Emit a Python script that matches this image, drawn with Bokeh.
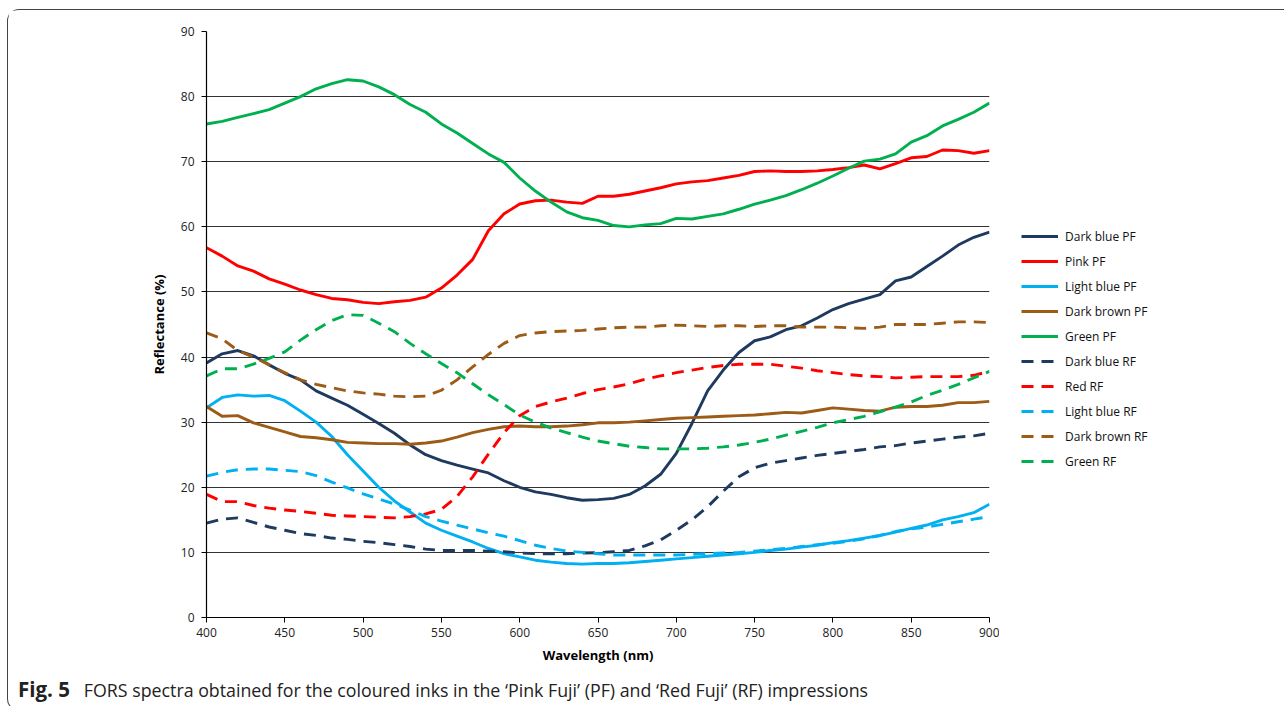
from bokeh.plotting import figure
from bokeh.models import Legend, LegendItem, Range1d, FixedTicker, Div
from bokeh.layouts import column, row
from bokeh.embed import file_html
from bokeh.resources import INLINE

wavelength = list(range(400, 901, 10))

dark_blue_pf = [39.1, 40.5, 41.0, 40.2, 38.8, 37.5, 36.5, 34.8, 33.7, 32.6, 31.2, 29.8, 28.3, 26.5, 25.0, 24.1, 23.4, 22.8, 22.2, 21.0,
                20.0, 19.3, 18.9, 18.4, 18.0, 18.1, 18.3, 18.9, 20.2, 22.0, 25.2, 29.8, 34.8, 38.0, 40.7, 42.5, 43.1, 44.2, 44.8, 46.0,
                47.3, 48.2, 48.9, 49.6, 51.7, 52.3, 53.9, 55.5, 57.2, 58.4, 59.2]
pink_pf = [56.8, 55.5, 54.0, 53.2, 52.0, 51.2, 50.3, 49.6, 49.0, 48.8, 48.4, 48.2, 48.5, 48.7, 49.2, 50.6, 52.6, 55.0, 59.4, 62.0,
           63.5, 64.0, 64.1, 63.8, 63.6, 64.7, 64.7, 65.0, 65.5, 66.0, 66.6, 66.9, 67.1, 67.5, 67.9, 68.5, 68.6, 68.5, 68.5, 68.6,
           68.8, 69.1, 69.5, 68.9, 69.7, 70.6, 70.8, 71.8, 71.7, 71.3, 71.7]
light_blue_pf = [32.2, 33.8, 34.2, 34.0, 34.1, 33.3, 31.7, 30.0, 27.8, 25.0, 22.5, 20.0, 17.9, 16.2, 14.5, 13.4, 12.5, 11.6, 10.6, 9.8,
                 9.3, 8.8, 8.5, 8.3, 8.2, 8.3, 8.3, 8.4, 8.6, 8.8, 9.0, 9.2, 9.4, 9.6, 9.8, 10.0, 10.3, 10.5, 10.8, 11.1,
                 11.5, 11.8, 12.2, 12.6, 13.1, 13.7, 14.2, 15.0, 15.5, 16.1, 17.4]
dark_brown_pf = [32.4, 30.9, 31.0, 29.9, 29.2, 28.5, 27.8, 27.6, 27.3, 26.9, 26.8, 26.7, 26.7, 26.6, 26.8, 27.1, 27.7, 28.4, 28.9, 29.3,
                 29.4, 29.3, 29.3, 29.4, 29.6, 29.9, 29.9, 30.0, 30.2, 30.4, 30.6, 30.7, 30.8, 30.9, 31.0, 31.1, 31.3, 31.5, 31.4, 31.8,
                 32.2, 32.0, 31.8, 31.7, 32.3, 32.4, 32.4, 32.6, 33.0, 33.0, 33.2]
green_pf = [75.8, 76.2, 76.8, 77.4, 78.0, 79.0, 80.0, 81.2, 82.0, 82.6, 82.4, 81.5, 80.3, 78.8, 77.6, 75.8, 74.4, 72.8, 71.2, 69.9,
            67.5, 65.5, 63.8, 62.3, 61.4, 61.0, 60.2, 60.0, 60.3, 60.5, 61.3, 61.2, 61.6, 62.0, 62.7, 63.5, 64.1, 64.8, 65.7, 66.7,
            67.8, 69.0, 70.1, 70.4, 71.2, 73.0, 74.0, 75.5, 76.5, 77.6, 79.0]
dark_blue_rf = [14.5, 15.1, 15.3, 14.6, 13.9, 13.4, 12.9, 12.6, 12.2, 12.0, 11.7, 11.5, 11.2, 10.9, 10.5, 10.3, 10.3, 10.3, 10.2, 10.1,
                9.9, 9.8, 9.8, 9.8, 9.9, 9.95, 10.1, 10.3, 11.0, 11.9, 13.4, 15.0, 17.0, 19.4, 21.6, 23.0, 23.7, 24.1, 24.5, 24.9,
                25.2, 25.5, 25.8, 26.2, 26.4, 26.8, 27.1, 27.4, 27.7, 27.9, 28.3]
red_rf = [18.9, 17.8, 17.8, 17.2, 16.8, 16.5, 16.3, 16.0, 15.7, 15.6, 15.5, 15.4, 15.3, 15.5, 15.9, 16.6, 18.6, 21.6, 25.1, 28.4,
          31.0, 32.4, 33.1, 33.7, 34.4, 35.0, 35.4, 35.9, 36.6, 37.1, 37.6, 38.0, 38.4, 38.7, 38.9, 38.9, 38.9, 38.6, 38.3, 37.9,
          37.6, 37.3, 37.1, 37.0, 36.8, 36.9, 37.0, 37.0, 37.0, 37.2, 37.8]
light_blue_rf = [21.7, 22.3, 22.7, 22.8, 22.8, 22.6, 22.4, 21.8, 20.8, 19.9, 19.0, 18.2, 17.4, 16.5, 15.5, 14.8, 14.2, 13.6, 13.0, 12.5,
                 11.8, 11.1, 10.6, 10.2, 10.0, 9.8, 9.6, 9.6, 9.6, 9.6, 9.6, 9.7, 9.8, 9.9, 10.0, 10.2, 10.4, 10.6, 10.9, 11.2,
                 11.4, 11.7, 12.1, 12.6, 13.2, 13.6, 13.9, 14.3, 14.7, 15.1, 15.5]
dark_brown_rf = [43.7, 42.8, 41.0, 40.0, 38.8, 37.6, 36.5, 35.8, 35.3, 34.8, 34.5, 34.3, 34.0, 33.9, 34.0, 34.9, 36.5, 38.5, 40.4, 42.1,
                 43.3, 43.7, 43.9, 44.0, 44.1, 44.3, 44.5, 44.6, 44.6, 44.8, 44.9, 44.8, 44.7, 44.8, 44.8, 44.7, 44.8, 44.8, 44.6, 44.6,
                 44.6, 44.5, 44.4, 44.6, 45.0, 45.0, 45.0, 45.2, 45.4, 45.4, 45.3]
green_rf = [37.1, 38.2, 38.2, 38.9, 39.8, 40.8, 42.6, 44.2, 45.6, 46.5, 46.4, 45.2, 43.9, 42.1, 40.5, 39.0, 37.6, 35.9, 34.2, 32.7,
            31.1, 30.0, 29.1, 28.4, 27.7, 27.1, 26.7, 26.3, 26.1, 25.9, 25.9, 25.9, 26.0, 26.2, 26.5, 26.9, 27.4, 28.0, 28.6, 29.2,
            29.9, 30.4, 30.9, 31.6, 32.3, 33.1, 34.1, 34.9, 35.8, 36.8, 37.8]

series_names = ["Dark blue PF", "Pink PF", "Light blue PF", "Dark brown PF", "Green PF",
                "Dark blue RF", "Red RF", "Light blue RF", "Dark brown RF", "Green RF"]
series_values = [dark_blue_pf, pink_pf, light_blue_pf, dark_brown_pf, green_pf,
                 dark_blue_rf, red_rf, light_blue_rf, dark_brown_rf, green_rf]
series_colors = ["#1F3A5F", "#FF0000", "#00B0F0", "#9C5B17", "#00B050",
                 "#1F3A5F", "#FF0000", "#00B0F0", "#9C5B17", "#00B050"]
series_dash = ["solid"] * 5 + ["12 8"] * 5

x_ticks = [400, 450, 500, 550, 600, 650, 700, 750, 800, 850, 900]
y_ticks = [0, 10, 20, 30, 40, 50, 60, 70, 80, 90]

caption_bold = "Fig. 5"
caption_text = "FORS spectra obtained for the coloured inks in the \u2018Pink Fuji\u2019 (PF) and \u2018Red Fuji\u2019 (RF) impressions"

FONT = "Open Sans"

# main chart: frame spans page x 207..990, y 32..618
p = figure(width=991, height=662, output_backend="svg", toolbar_location=None,
           x_range=Range1d(400, 900), y_range=Range1d(0, 90),
           min_border_left=198, min_border_right=10, min_border_top=21, min_border_bottom=55)
p.outline_line_color = None
p.background_fill_color = "white"
p.border_fill_color = "white"

p.xgrid.grid_line_color = None
p.ygrid.grid_line_color = "#333333"
p.ygrid.grid_line_width = 1
p.ygrid.ticker = FixedTicker(ticks=y_ticks)

p.xaxis.ticker = FixedTicker(ticks=x_ticks)
p.yaxis.ticker = FixedTicker(ticks=y_ticks)
for ax in (p.xaxis[0], p.yaxis[0]):
    ax.axis_line_color = "black"
    ax.axis_line_width = 1.2
    ax.major_tick_line_color = "black"
    ax.major_tick_out = 5
    ax.major_tick_in = 0
    ax.minor_tick_line_color = None
    ax.major_label_text_font = FONT
    ax.major_label_text_font_size = "12px"
    ax.major_label_text_color = "#222222"
    ax.axis_label_text_font = FONT
    ax.axis_label_text_font_size = "13px"
    ax.axis_label_text_font_style = "bold"
    ax.axis_label_text_color = "black"

p.xaxis.axis_label = "Wavelength (nm)"
p.yaxis.axis_label = "Reflectance (%)"
p.xaxis.major_label_standoff = 5
p.xaxis.axis_label_standoff = 6
p.yaxis.major_label_standoff = 7
p.yaxis.axis_label_standoff = 10

for vals, col, dash in zip(series_values, series_colors, series_dash):
    p.line(wavelength, vals, line_color=col, line_width=2.9, line_dash=dash, line_join="round")

# legend panel to the right of the chart (its series lie outside its view range)
lf = figure(width=284, height=662, output_backend="svg", toolbar_location=None,
            x_axis_location=None, y_axis_location=None,
            x_range=Range1d(0, 1), y_range=Range1d(0, 1),
            min_border_left=0, min_border_right=0, min_border_top=21, min_border_bottom=55)
lf.outline_line_color = None
lf.xgrid.grid_line_color = None
lf.ygrid.grid_line_color = None
lf.background_fill_color = "white"
lf.border_fill_color = "white"

items = []
for name, vals, col, dash in zip(series_names, series_values, series_colors, series_dash):
    r = lf.line(wavelength, vals, line_color=col, line_width=2.9, line_dash=dash)
    items.append(LegendItem(label=name, renderers=[r]))

legend = Legend(items=items, location=(22, 146), orientation="vertical",
                glyph_width=37, glyph_height=20, spacing=5, label_standoff=7,
                padding=0, margin=0, border_line_color=None, background_fill_alpha=0,
                label_text_font=FONT, label_text_font_size="12px", label_text_color="#111111")
lf.add_layout(legend, "center")

cap = Div(text="<b style='font-size:20.5px'>%s</b>&nbsp;&nbsp;&nbsp;%s" % (caption_bold, caption_text), width=1275, height=28,
          styles={"font-family": "'Open Sans'", "font-size": "17.8px", "color": "#222222",
                  "padding-left": "5px", "line-height": "24px"})

layout = column(row(p, lf, spacing=0), cap, spacing=0,
                styles={"border": "1.5px solid #444", "border-right": "none",
                        "border-radius": "12px 0 0 12px", "margin-left": "7px", "margin-top": "9px",
                        "background": "white"})

open("out.html", "w").write(file_html(layout, INLINE))
